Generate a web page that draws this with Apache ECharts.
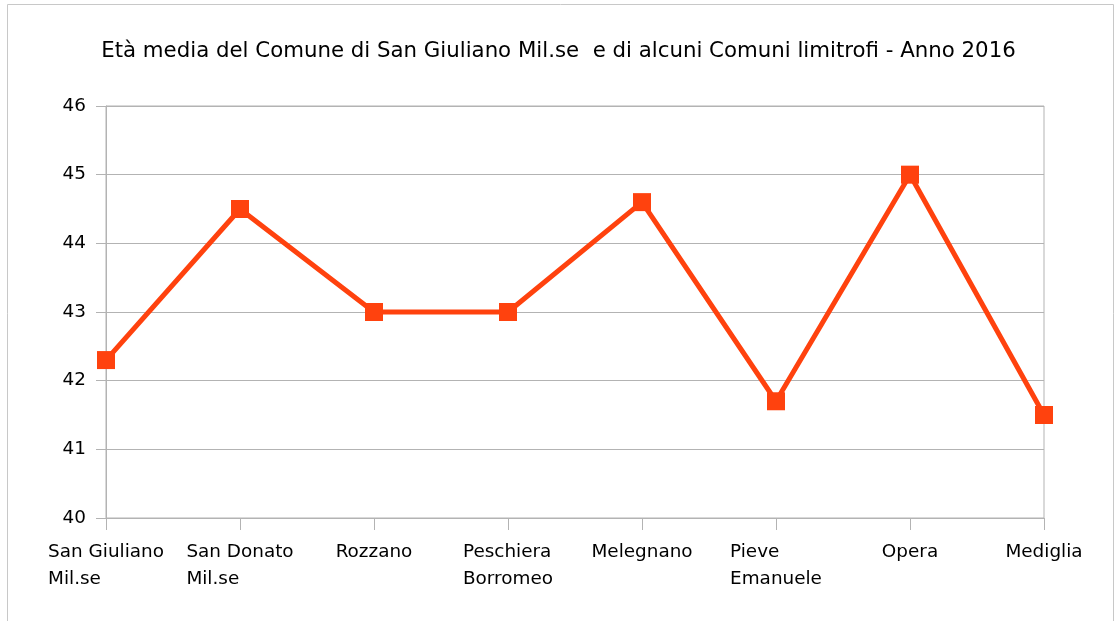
<!DOCTYPE html>
<html>
<head>
<meta charset="utf-8">
<title>Età media</title>
<script src="https://cdn.jsdelivr.net/npm/echarts@6/dist/echarts.min.js"></script>
<style>
  html, body { margin: 0; padding: 0; background: #fff; }
  #chart { width: 1117px; height: 621px; }
</style>
</head>
<body>
<div id="chart"></div>
<script>
  // dati
  var comuni = ['San Giuliano\nMil.se', 'San Donato\nMil.se', 'Rozzano', 'Peschiera\nBorromeo',
    'Melegnano', 'Pieve\nEmanuele', 'Opera', 'Mediglia'];
  var etaMedia = [42.3, 44.5, 43.0, 43.0, 44.6, 41.7, 45.0, 41.5];
  var titolo = 'Età media del Comune di San Giuliano Mil.se  e di alcuni Comuni limitrofi - Anno 2016';

  var font = '"DejaVu Sans", Verdana, sans-serif';
  var myChart = echarts.init(document.getElementById('chart'), null, { renderer: 'canvas' });

  var options = {
    backgroundColor: '#ffffff',
    animation: false,
    title: {
      text: titolo,
      left: 'center',
      top: 36,
      textStyle: { fontFamily: font, fontSize: 21.3, fontWeight: 'normal', color: '#000' }
    },
    graphic: [{
      type: 'rect',
      shape: { x: 7.5, y: 4.5, width: 1106, height: 640 },
      style: { fill: 'none', stroke: '#c8c8c8', lineWidth: 1 },
      silent: true
    }],
    grid: {
      left: 106, right: 73, top: 106, bottom: 103,
      show: true, borderColor: '#b3b3b3', borderWidth: 1, backgroundColor: 'transparent'
    },
    xAxis: {
      type: 'category',
      data: comuni,
      boundaryGap: false,
      axisLine: { lineStyle: { color: '#b3b3b3', width: 1 } },
      axisTick: { show: true, length: 12, alignWithLabel: true, lineStyle: { color: '#b3b3b3' } },
      axisLabel: {
        margin: 21,
        interval: 0,
        formatter: function (v) {
          return v.split('\n').map(function (s) { return '{a|' + s + '}'; }).join('\n');
        },
        rich: {
          a: { fontFamily: font, fontSize: 18.4, color: '#000', align: 'left', lineHeight: 27 }
        }
      },
      splitLine: { show: false }
    },
    yAxis: {
      type: 'value',
      min: 40,
      max: 46,
      interval: 1,
      axisLine: { show: true, lineStyle: { color: '#b3b3b3', width: 1 } },
      axisTick: { show: true, length: 10, lineStyle: { color: '#b3b3b3' } },
      axisLabel: { fontFamily: font, fontSize: 18.4, color: '#000', margin: 20 },
      splitLine: { show: true, lineStyle: { color: '#b3b3b3', width: 1 } }
    },
    series: [{
      type: 'line',
      data: etaMedia,
      color: '#ff420e',
      lineStyle: { width: 5, color: '#ff420e' },
      symbol: 'rect',
      symbolSize: 18,
      itemStyle: { color: '#ff420e' }
    }]
  };
  myChart.setOption(options);
</script>
</body>
</html>
